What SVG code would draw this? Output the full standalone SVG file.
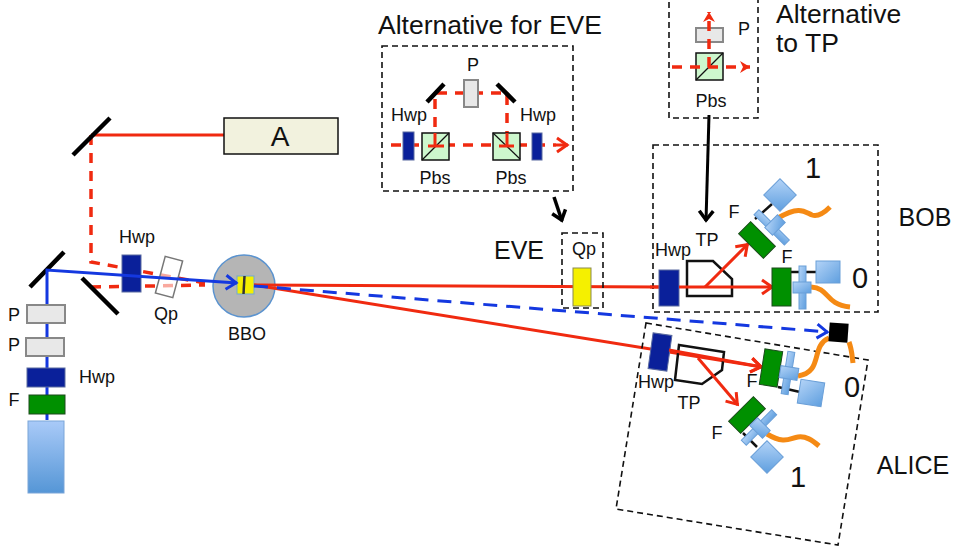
<svg xmlns="http://www.w3.org/2000/svg" width="957" height="550" viewBox="0 0 957 550">
<style>
text{font-family:"Liberation Sans",Arial,sans-serif;fill:#111;text-anchor:middle}
.s{font-size:18px}.m{font-size:18px}.l{font-size:29px}
.box{fill:none;stroke:#111;stroke-width:1.6;stroke-dasharray:6 4}
.mir{stroke:#000;stroke-width:4.500;fill:none}
.red{stroke:#f02a10;stroke-width:3;fill:none}
.rd{stroke:#f02a10;stroke-width:3.500;fill:none;stroke-dasharray:10 8}
.blu{stroke:#1438e0;stroke-width:3;fill:none}
.hwp{fill:#0a209a;stroke:#5a6aa0;stroke-width:1}
.grn{fill:#009000;stroke:#1c4a1c;stroke-width:1}
.p{fill:#e8e8e8;stroke:#888;stroke-width:2}
.pbs{fill:#cdf7cd;stroke:#111;stroke-width:1.5}
.lb{fill:url(#lb);stroke:#6a9fd8;stroke-width:1}
.or{stroke:#f58a14;stroke-width:5;fill:none}
.blk{stroke:#111;stroke-width:2.500}
</style>
<defs>
<linearGradient id="lb" x1="0" y1="0" x2="1" y2="1"><stop offset="0" stop-color="#b3d3f7"/><stop offset="1" stop-color="#5f9fdf"/></linearGradient>
<linearGradient id="laser" x1="0" y1="0" x2="0" y2="1"><stop offset="0" stop-color="#a9caf8"/><stop offset="1" stop-color="#5596d6"/></linearGradient>
<marker id="ar" markerUnits="userSpaceOnUse" markerWidth="18" markerHeight="18" refX="14" refY="9" orient="auto"><path d="M3 2L13 9L3 16" fill="none" stroke="#f02a10" stroke-width="3"/></marker>
<marker id="ab" markerUnits="userSpaceOnUse" markerWidth="18" markerHeight="18" refX="14" refY="9" orient="auto"><path d="M3 2L13 9L3 16" fill="none" stroke="#1438e0" stroke-width="3"/></marker>
<marker id="ak" markerUnits="userSpaceOnUse" markerWidth="18" markerHeight="18" refX="14" refY="9" orient="auto"><path d="M4 2L13 9L4 16" fill="none" stroke="#000" stroke-width="3.500"/></marker>
<marker id="af" markerUnits="userSpaceOnUse" markerWidth="14" markerHeight="14" refX="10" refY="6" orient="auto"><path d="M0 0L10 6L0 12L3 6Z" fill="#f02a10"/></marker>
</defs>

<g id="beam-group">
<path class="rd" d="M91 135V262L205 283M91 287L205 285"/>
<path class="red" d="M91 135H224"/>
</g>

<g id="source-a"><rect x="224" y="118" width="114" height="36" fill="#f2f2de" stroke="#111" stroke-width="1.5"/><text x="280" y="146" font-size="28">A</text></g>
<g id="mirrors"><path class="mir" d="M73 155L110 118M30 287L64 252M82 278L118 314"/></g>

<g id="hwp-pump"><rect class="hwp" x="122" y="255" width="19" height="37"/><text class="s" x="137" y="243">Hwp</text></g>
<g id="qp-pump"><rect x="160" y="258" width="18" height="38" fill="#fff" fill-opacity=".6" stroke="#777" stroke-width="1.5" transform="rotate(15 169 277)"/><text class="s" x="166" y="320">Qp</text></g>
<g id="bbo"><circle cx="244" cy="286" r="31" fill="#b5b5b5" stroke="#5b93cf" stroke-width="1.5"/><rect x="237" y="276" width="17" height="18" fill="#f5f000" stroke="#6ea8d8"/><path d="M244.500 276L243.500 294" stroke="#333" stroke-width="2.500"/><text class="s" x="247" y="340">BBO</text></g>

<g id="connectors">
<path class="red" d="M254 285L659 287"/>
<path class="red" d="M254 285L762 367" marker-end="url(#ar)"/>
<path class="blu" d="M47 420V270L237 283" marker-end="url(#ab)"/>
<path class="blu" d="M254 286L828 332" stroke-dasharray="14 9" marker-end="url(#ab)"/>
<path d="M709 115L706 221" stroke="#000" stroke-width="3" fill="none" marker-end="url(#ak)"/>
<path d="M554 197L562 221" stroke="#000" stroke-width="3.500" fill="none" marker-end="url(#ak)"/>
</g>

<g id="pump">
<rect class="p" x="27" y="305" width="38" height="18"/><text class="s" x="14" y="321">P</text>
<rect class="p" x="26" y="338" width="38" height="18"/><text class="s" x="14" y="351">P</text>
<rect class="hwp" x="27" y="368" width="38" height="19"/><text class="s" x="97" y="383">Hwp</text>
<rect class="grn" x="29" y="395" width="36" height="19"/><text class="s" x="14" y="406">F</text>
<rect x="28" y="421" width="36" height="72" fill="url(#laser)" stroke="#7aa5d8"/>
</g>

<g id="alt-eve">
<text x="490" y="34" font-size="26.500">Alternative for EVE</text>
<rect class="box" x="382" y="46" width="191" height="145"/>
<path class="rd" d="M435 145V93H507V145M391 145H556"/>
<path class="red" d="M556 145H568" marker-end="url(#ar)"/>
<path class="mir" d="M427 102L444 84M497 84L515 102"/>
<rect class="p" x="464" y="80" width="14" height="27"/>
<rect class="hwp" x="403" y="132" width="11" height="28"/><rect class="hwp" x="532" y="133" width="10" height="27"/>
<rect class="pbs" x="422" y="133" width="27" height="27"/><path d="M422 160L449 133" stroke="#111" stroke-width="1.200"/>
<rect class="pbs" x="493" y="133" width="27" height="27"/><path d="M493 133L520 159" stroke="#111" stroke-width="1.200"/>
<path class="red" d="M435 133V146M507 133V146M428 146H444M499 146H514"/>
<text class="m" x="473" y="71">P</text><text class="m" x="409" y="121">Hwp</text><text class="m" x="538" y="121">Hwp</text><text class="m" x="435" y="184">Pbs</text><text class="m" x="511" y="184">Pbs</text>
</g>

<g id="alt-tp">
<rect class="box" x="669" y="-4" width="89" height="122"/>
<rect class="p" x="696" y="28" width="27" height="14"/>
<rect class="pbs" x="696" y="53" width="27" height="27"/><path d="M696 80L723 53" stroke="#111" stroke-width="1.200"/>
<path class="rd" d="M672 67H750" marker-end="url(#af)"/>
<path class="rd" d="M709 67V12" stroke-dasharray="11 6" marker-end="url(#af)"/>
<text class="m" x="744" y="35">P</text><text class="m" x="711" y="107">Pbs</text>
<text x="776" y="23" font-size="26.500" style="text-anchor:start">Alternative</text><text x="776" y="52" font-size="26.500" style="text-anchor:start">to TP</text>
</g>

<g id="eve">
<text x="519" y="259" font-size="25">EVE</text>
<rect class="box" x="562" y="233" width="41" height="75"/>
<rect x="573" y="268" width="18" height="38" fill="#f5f000" stroke="#8a8a50"/>
<text class="s" x="584" y="255">Qp</text>
</g>

<g id="bob">
<rect class="box" x="653" y="145" width="225" height="167"/>
<path class="red" d="M650 287H659"/>
<rect class="hwp" x="659" y="270" width="20" height="36"/>
<path d="M687 261H713L732 279V296H687Z" fill="none" stroke="#111" stroke-width="2.500"/>
<path class="red" d="M679 287H773" marker-end="url(#ar)"/>
<path class="red" d="M705 287L748 244" marker-end="url(#ar)"/>
<path class="or" d="M811 287C830 288 824 304 850 307"/>
<path class="blk" d="M791 272H817"/>
<rect class="grn" x="772" y="268" width="19" height="38"/>
<rect class="lb" x="799" y="266" width="7" height="43"/><rect class="lb" x="793" y="282" width="18" height="11"/>
<rect class="lb" x="816" y="261" width="24" height="22"/>
<path class="or" d="M778 218C800 205 805 212 812 215C818 217 824 213 830 207"/>
<path class="blk" d="M755 219L772 204"/>
<rect class="grn" x="739.500" y="231.500" width="35" height="17" transform="rotate(45 757 240)"/>
<rect class="lb" x="750.500" y="224" width="43" height="7" transform="rotate(45 772 227)"/>
<rect class="lb" x="766" y="219.500" width="18" height="11" transform="rotate(-45 775 225)"/>
<rect class="lb" x="768.500" y="183.500" width="23" height="23" transform="rotate(45 780 195)"/>
<text class="l" x="813" y="178">1</text><text class="l" x="860" y="288">0</text>
<text class="m" x="734" y="218">F</text><text class="m" x="787" y="263">F</text><text class="m" x="707" y="246">TP</text><text class="m" x="673" y="256">Hwp</text>
<text x="925" y="226" font-size="25">BOB</text>
</g>

<g id="alice">
<path class="box" d="M646 323L868 360L838 545L616 509Z"/>
<rect class="hwp" x="650.500" y="334" width="19" height="36" transform="rotate(8 660 352)"/>
<path d="M679 345L724 352L722 370L702 384L675 380Z" fill="none" stroke="#111" stroke-width="2.500"/>
<path class="red" d="M669 350L762 367" marker-end="url(#ar)"/>
<path class="red" d="M698 358L738 405" marker-end="url(#ar)"/>
<path class="or" d="M798 376C824 372 810 346 829 338M849 342C852 350 852 356 853 363"/>
<path class="blk" d="M778 387L800 392"/>
<rect class="grn" x="762" y="350" width="18" height="36" transform="rotate(9 771 368)"/>
<rect class="lb" x="784.500" y="351.500" width="7" height="43" transform="rotate(9 788 373)"/>
<rect class="lb" x="780" y="367" width="18" height="12" transform="rotate(9 789 373)"/>
<rect class="lb" x="799" y="381" width="24" height="24" transform="rotate(9 811 393)"/>
<rect x="829" y="323" width="19" height="19" fill="#000" transform="rotate(4 838 333)"/>
<path class="or" d="M767 434C785 445 790 438 798 437C806 436 812 440 819 446"/>
<path class="blk" d="M743 433L757 447"/>
<rect class="grn" x="729.500" y="406.500" width="35" height="17" transform="rotate(-45 747 415)"/>
<rect class="lb" x="737.500" y="424" width="43" height="7" transform="rotate(-45 759 427.500)"/>
<rect class="lb" x="751" y="422.500" width="18" height="11" transform="rotate(45 760 428)"/>
<rect class="lb" x="755.500" y="445.500" width="23" height="23" transform="rotate(45 767 457)"/>
<text class="l" x="852" y="397">0</text><text class="l" x="798" y="487">1</text>
<text class="m" x="752" y="387">F</text><text class="m" x="717" y="439">F</text><text class="m" x="689" y="409">TP</text><text class="m" x="656" y="388">Hwp</text>
<text x="913" y="474" font-size="25">ALICE</text>
</g>
</svg>
